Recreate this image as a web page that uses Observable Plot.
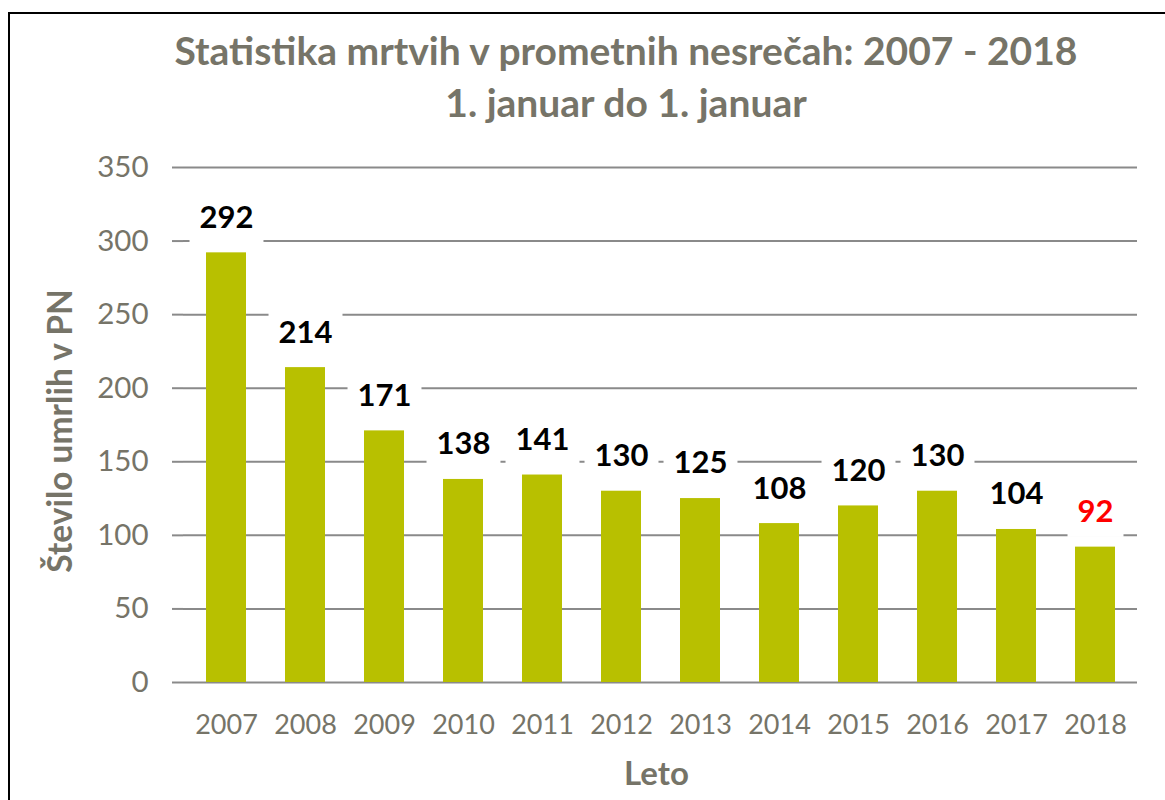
<!DOCTYPE html>
<html>
<head>
<meta charset="utf-8">
<script src="https://cdn.jsdelivr.net/npm/d3@7"></script>
<script src="https://cdn.jsdelivr.net/npm/@observablehq/plot@0.6"></script>
<style>
  html, body { margin: 0; padding: 0; background: #fff; }
  #wrap { position: relative; width: 1165px; height: 800px; overflow: hidden; font-family: Lato, sans-serif; }
  #frame { position: absolute; left: 8px; top: 12px; right: -10px; bottom: -10px; border-left: 2px solid #000; border-top: 2px solid #000; }
  #title { position: absolute; left: 126px; width: 1000px; top: 24px; text-align: center; color: #767468; font-weight: 700; font-size: 39px; line-height: 52px; }
  #chart { position: absolute; left: 0; top: 140px; }
</style>
</head>
<body>
<div id="wrap">
  <div id="frame"></div>
  <div id="title">Statistika mrtvih v prometnih nesrečah: 2007 - 2018<br>1. januar do 1. januar</div>
  <div id="chart"></div>
</div>
<script>
const years = ["2007","2008","2009","2010","2011","2012","2013","2014","2015","2016","2017","2018"];
const deaths = [292, 214, 171, 138, 141, 130, 125, 108, 120, 130, 104, 92];
const yTicks = [0, 50, 100, 150, 200, 250, 300, 350];
const highlightYear = "2018";
const yTitle = "Število umrlih v PN";
const xTitle = "Leto";

const data = years.map((year, i) => ({year, deaths: deaths[i]}));
const gray = "#767468";
const lineGray = "#8a8a8a";
const labelSize = 31;

const chart = Plot.plot({
  width: 1165,
  height: 660,
  marginLeft: 183,
  marginRight: 28,
  marginTop: 27,
  marginBottom: 118,
  style: {fontFamily: "Lato, sans-serif", background: "transparent", overflow: "visible"},
  x: {type: "band", domain: years, paddingInner: 0.5, paddingOuter: 0.25, axis: null},
  y: {domain: [0, 350], axis: null},
  marks: [
    Plot.gridY(yTicks, {stroke: lineGray, strokeOpacity: 1, strokeWidth: 2}),
    Plot.axisY(yTicks, {tickSize: 11, tickPadding: 24, stroke: lineGray, strokeWidth: 2, fill: gray, fontSize: 29.5, line: true, label: null}),
    Plot.axisX({tickSize: 0, tickPadding: 32, fill: gray, fontSize: 27, label: null}),
    Plot.barY(data, {x: "year", y: "deaths", fill: "#b8c000"}),
    Plot.text(data.filter(d => d.year !== highlightYear), {x: "year", y: "deaths", text: d => String(d.deaths), dy: -35, lineAnchor: "middle", fill: "#000", fontWeight: 700, fontSize: labelSize}),
    Plot.text(data.filter(d => d.year === highlightYear), {x: "year", y: "deaths", text: d => String(d.deaths), dy: -35, lineAnchor: "middle", fill: "#ff0000", fontWeight: 700, fontSize: labelSize}),
    Plot.text([yTitle], {frameAnchor: "left", textAnchor: "middle", rotate: -90, dx: -122, dy: 6, fill: gray, fontWeight: 700, fontSize: 33.5}),
    Plot.text([xTitle], {frameAnchor: "bottom", textAnchor: "middle", dx: -4, dy: 92, lineAnchor: "middle", fill: gray, fontWeight: 700, fontSize: 33})
  ]
});

document.getElementById("chart").append(chart);

// white boxes behind the value labels (as Excel data label fills)
chart.querySelectorAll('g[font-size="' + labelSize + '"]').forEach(g => {
  Array.from(g.querySelectorAll("text")).forEach(t => {
    const b = t.getBBox();
    const cy = b.y + b.height * 0.47;
    const r = document.createElementNS("http://www.w3.org/2000/svg", "rect");
    r.setAttribute("x", b.x - 10);
    r.setAttribute("width", b.width + 20);
    r.setAttribute("y", cy - 20);
    r.setAttribute("height", 48);
    r.setAttribute("fill", "#fff");
    r.setAttribute("stroke", "none");
    const tr = t.getAttribute("transform");
    if (tr) r.setAttribute("transform", tr);
    g.insertBefore(r, t);
  });
});
</script>
</body>
</html>
